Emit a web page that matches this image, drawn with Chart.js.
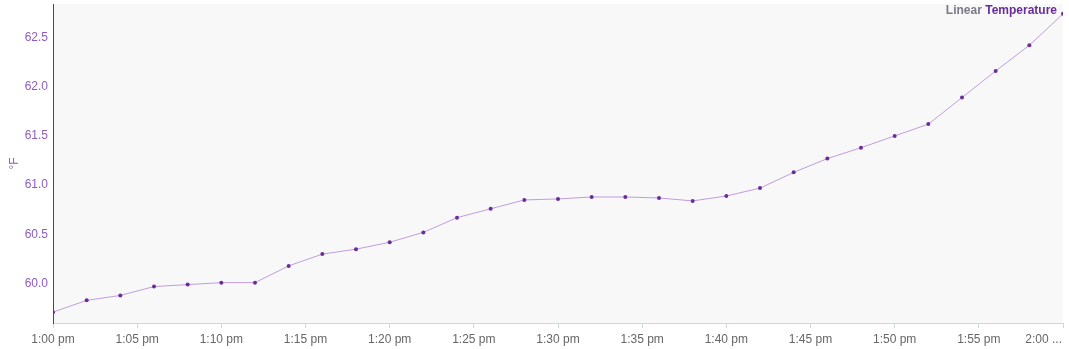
<!DOCTYPE html>
<html lang="en">
<head>
    <meta charset="UTF-8">
    <title>Linear Temperature</title>
    <script src="https://cdn.jsdelivr.net/npm/chart.js"></script>
    <style>
        body {
            margin: 0;
            background: #fff;
            font-family: "Liberation Sans", Arial, sans-serif;
        }
        #wrap {
            width: 1069px;
            height: 349px;
            position: relative;
        }
    </style>
</head>
<body>
    <div id="wrap">
        <canvas id="temp-chart" width="1069" height="349"></canvas>
    </div>

    <script>
        // minutes after 1:00 pm, one reading every 2 minutes
        const minutes = [0, 2, 4, 6, 8, 10, 12, 14, 16, 18, 20, 22, 24, 26, 28, 30,
                         32, 34, 36, 38, 40, 42, 44, 46, 48, 50, 52, 54, 56, 58, 60];
        const temperatures = [59.71, 59.83, 59.88, 59.97, 59.99, 60.01, 60.01, 60.18, 60.30, 60.35,
                              60.42, 60.52, 60.67, 60.76, 60.85, 60.86, 60.88, 60.88, 60.87, 60.84,
                              60.89, 60.97, 61.13, 61.27, 61.38, 61.50, 61.62, 61.89, 62.16, 62.42, 62.74];
        const xTickLabels = ['1:00 pm', '1:05 pm', '1:10 pm', '1:15 pm', '1:20 pm', '1:25 pm',
                             '1:30 pm', '1:35 pm', '1:40 pm', '1:45 pm', '1:50 pm', '1:55 pm', '2:00 ...'];
        const yTicks = [60.0, 60.5, 61.0, 61.5, 62.0, 62.5];

        const FONT = '"Liberation Sans", Arial, sans-serif';
        const lastIdx = xTickLabels.length - 1;

        // Plot background, legend text and the clipped last x label
        const plotExtras = {
            id: 'plotExtras',
            beforeDraw(chart) {
                const { ctx, chartArea: a } = chart;
                ctx.save();
                ctx.fillStyle = '#f8f8f8';
                ctx.fillRect(a.left, a.top, a.right - a.left, a.bottom - a.top);
                ctx.restore();
            },
            afterDraw(chart) {
                const { ctx, chartArea: a } = chart;
                ctx.save();
                ctx.font = 'bold 12px ' + FONT;
                ctx.textBaseline = 'middle';
                ctx.textAlign = 'right';
                const x = a.right - 6;
                ctx.fillStyle = '#6a2c9a';
                ctx.fillText('Temperature', x, 11);
                const w = ctx.measureText(' Temperature').width;
                ctx.fillStyle = '#7a7a8a';
                ctx.fillText('Linear', x - w, 11);

                // last x label sits right-aligned against the plot edge
                const xs = chart.scales.x;
                ctx.font = '12px ' + FONT;
                ctx.fillStyle = '#666666';
                ctx.textAlign = 'right';
                ctx.textBaseline = 'middle';
                ctx.fillText(xTickLabels[lastIdx], a.right - 1, xs.top + 5 + 4 + 7.2);
                ctx.restore();
            }
        };

        const ctx = document.getElementById('temp-chart').getContext('2d');
        new Chart(ctx, {
            type: 'line',
            data: {
                datasets: [{
                    label: 'Temperature',
                    data: minutes.map((m, i) => ({ x: m, y: temperatures[i] })),
                    borderColor: '#c09ddf',
                    borderWidth: 1,
                    pointBackgroundColor: '#6a2c9a',
                    pointBorderColor: '#6a2c9a',
                    pointRadius: 2,
                    pointBorderWidth: 0,
                    tension: 0,
                    fill: false
                }]
            },
            options: {
                responsive: false,
                animation: false,
                layout: { padding: { top: 2, right: 6, left: 0, bottom: 0 } },
                plugins: {
                    legend: { display: false },
                    tooltip: { enabled: false }
                },
                scales: {
                    x: {
                        type: 'linear',
                        min: 0,
                        max: 60,
                        afterBuildTicks(scale) {
                            scale.ticks = xTickLabels.map((_, i) => ({ value: i * 5 }));
                        },
                        afterFit(scale) {
                            scale.height = 26;
                            scale.paddingLeft = 0;
                            scale.paddingRight = 0;
                        },
                        ticks: {
                            callback: (v) => {
                                const i = Math.round(v / 5);
                                return i === lastIdx ? '' : xTickLabels[i];
                            },
                            color: '#666666',
                            font: { size: 12, family: FONT },
                            maxRotation: 0,
                            autoSkip: false,
                            padding: 4
                        },
                        grid: {
                            drawOnChartArea: false,
                            tickLength: 5,
                            color: '#ccd6eb'
                        },
                        border: { color: '#ccd6eb', width: 1 }
                    },
                    y: {
                        min: 59.6,
                        max: 62.84,
                        afterBuildTicks(scale) {
                            scale.ticks = yTicks.map(v => ({ value: v }));
                        },
                        afterFit(scale) {
                            scale.width = 53;
                            scale.paddingTop = 0;
                            scale.paddingBottom = 0;
                        },
                        ticks: {
                            callback: (v) => v.toFixed(1),
                            color: '#8e5cc0',
                            font: { size: 12, family: FONT },
                            padding: 5
                        },
                        grid: { display: false, tickLength: 0 },
                        border: { color: '#6a2c9a', width: 1 },
                        title: {
                            display: true,
                            text: '°F',
                            color: '#8e5cc0',
                            font: { size: 12, family: FONT },
                            padding: { top: 7, bottom: 0 }
                        }
                    }
                }
            },
            plugins: [plotExtras]
        });
    </script>
</body>
</html>
